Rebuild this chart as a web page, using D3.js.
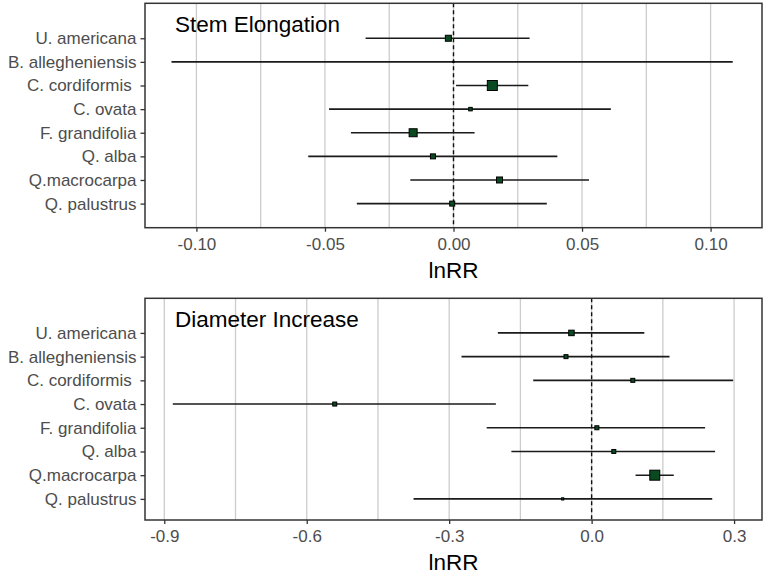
<!DOCTYPE html>
<html>
<head>
<meta charset="utf-8">
<script src="https://cdn.jsdelivr.net/npm/d3@7"></script>
<style>
  body { margin: 0; background: #fff; }
  svg { font-family: "Liberation Sans", Arial, sans-serif; display: block; }
</style>
</head>
<body>
<svg id="chart"></svg>
<script>
// species, top to bottom
const species = [
  "U. americana",
  "B. allegheniensis",
  "C. cordiformis ",
  "C. ovata",
  "F. grandifolia",
  "Q. alba",
  "Q.macrocarpa",
  "Q. palustrus",
];

// stem elongation: lnRR estimate with lower / upper CI and weight
const stemEst = [-0.002, 0.0, 0.0151, 0.0066, -0.0157, -0.008, 0.0179, -0.0005];
const stemLo = [-0.0342, -0.1097, 0.001, -0.0484, -0.0399, -0.0565, -0.0168, -0.0376];
const stemHi = [0.0296, 0.1086, 0.0291, 0.0612, 0.0082, 0.0404, 0.0527, 0.0363];
const stemWeight = [6, 1.2, 10, 3.5, 8, 5, 6, 5];
const stemTicks = [-0.1, -0.05, 0, 0.05, 0.1];

// diameter increase
const diamEst = [-0.0425, -0.054, 0.0867, -0.541, 0.011, 0.0467, 0.133, -0.061];
const diamLo = [-0.1975, -0.274, -0.123, -0.882, -0.221, -0.169, 0.0925, -0.375];
const diamHi = [0.111, 0.164, 0.298, -0.2017, 0.239, 0.26, 0.173, 0.254];
const diamWeight = [5.5, 4, 4, 4, 4, 4, 10, 2.2];
const diamTicks = [-0.9, -0.6, -0.3, 0, 0.3];

const width = 765;
const height = 574;
const panelLeft = 145;
const panelRight = 762;

const svg = d3.select("#chart").attr("width", width).attr("height", height);

const sizeScale = d3.scaleLinear().domain([0, 10]).range([0, 10]);

const drawPanel = (opts) => {
  const { title, est, lo, hi, weight, ticks, domain, top, bottom, yDomain, digits } = opts;
  const rows = species.map((s, i) => ({
    name: s,
    i: i,
    est: est[i],
    lo: lo[i],
    hi: hi[i],
    w: weight[i],
  }));

  const x = d3.scaleLinear().domain(domain).range([panelLeft, panelRight]);
  const y = d3.scaleLinear().domain(yDomain).range([top, bottom]);

  const g = svg.append("g");

  // grid: major + minor
  const minor = d3.pairs(ticks).map((p) => (p[0] + p[1]) / 2);
  const grid = ticks.concat(minor);
  g.append("g")
    .selectAll("line")
    .data(grid)
    .enter()
    .append("line")
    .attr("x1", (d) => x(d))
    .attr("x2", (d) => x(d))
    .attr("y1", top)
    .attr("y2", bottom)
    .attr("stroke", "#cccccc")
    .attr("stroke-width", 1.3);

  // zero line
  g.append("line")
    .attr("x1", x(0))
    .attr("x2", x(0))
    .attr("y1", top)
    .attr("y2", bottom)
    .attr("stroke", "#111")
    .attr("stroke-width", 1.4)
    .attr("stroke-dasharray", "4,3");

  // error bars
  g.append("g")
    .selectAll("line")
    .data(rows)
    .enter()
    .append("line")
    .attr("x1", (d) => x(d.lo))
    .attr("x2", (d) => x(d.hi))
    .attr("y1", (d) => y(d.i))
    .attr("y2", (d) => y(d.i))
    .attr("stroke", "#1a1a1a")
    .attr("stroke-width", 1.6);

  // points
  g.append("g")
    .selectAll("rect")
    .data(rows)
    .enter()
    .append("rect")
    .attr("x", (d) => x(d.est) - sizeScale(d.w) / 2)
    .attr("y", (d) => y(d.i) - sizeScale(d.w) / 2)
    .attr("width", (d) => sizeScale(d.w))
    .attr("height", (d) => sizeScale(d.w))
    .attr("fill", "#0b4a20")
    .attr("stroke", "#000")
    .attr("stroke-width", 1);

  // border
  g.append("rect")
    .attr("x", panelLeft)
    .attr("y", top)
    .attr("width", panelRight - panelLeft)
    .attr("height", bottom - top)
    .attr("fill", "none")
    .attr("stroke", "#333")
    .attr("stroke-width", 1.5);

  // axes
  const xAxis = d3
    .axisBottom(x)
    .tickValues(ticks)
    .tickSize(4)
    .tickPadding(6)
    .tickFormat((d) => d.toFixed(digits));
  const xg = g
    .append("g")
    .attr("transform", "translate(0," + bottom + ")")
    .call(xAxis);
  xg.select(".domain").remove();
  xg.selectAll(".tick line").attr("stroke", "#333").attr("stroke-width", 1.3);
  xg.selectAll(".tick text")
    .attr("fill", "#4d4d4d")
    .style("font-size", "17px")
    .style("font-family", "Liberation Sans, Arial, sans-serif");

  const yAxis = d3
    .axisLeft(y)
    .tickValues(d3.range(species.length))
    .tickSize(4.5)
    .tickPadding(4)
    .tickFormat((d) => species[d]);
  const yg = g
    .append("g")
    .attr("transform", "translate(" + panelLeft + ",0)")
    .call(yAxis);
  yg.select(".domain").remove();
  yg.selectAll(".tick line").attr("stroke", "#333").attr("stroke-width", 1.3);
  yg.selectAll(".tick text")
    .attr("fill", "#4d4d4d")
    .style("font-size", "17px")
    .style("white-space", "pre")
    .style("font-family", "Liberation Sans, Arial, sans-serif");

  // title inside panel
  g.append("text")
    .attr("x", 175)
    .attr("y", top + 29)
    .attr("fill", "#000")
    .style("font-size", "22.5px")
    .text(title);

  // x axis title
  g.append("text")
    .attr("x", (panelLeft + panelRight) / 2)
    .attr("y", bottom + 50)
    .attr("text-anchor", "middle")
    .attr("fill", "#000")
    .style("font-size", "22.5px")
    .text("lnRR");
};

drawPanel({
  title: "Stem Elongation",
  est: stemEst,
  lo: stemLo,
  hi: stemHi,
  weight: stemWeight,
  ticks: stemTicks,
  domain: [-0.12, 0.12],
  top: 3.3,
  bottom: 227.7,
  yDomain: [-1.48, 8.02],
  digits: 2,
});

drawPanel({
  title: "Diameter Increase",
  est: diamEst,
  lo: diamLo,
  hi: diamHi,
  weight: diamWeight,
  ticks: diamTicks,
  domain: [-0.9406, 0.3588],
  top: 298.3,
  bottom: 520,
  yDomain: [-1.46, 7.89],
  digits: 1,
});
</script>
</body>
</html>
